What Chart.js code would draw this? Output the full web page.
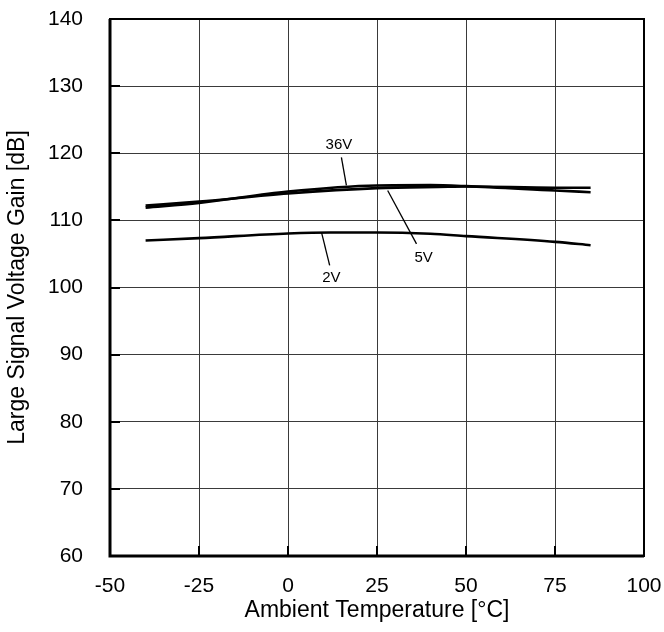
<!DOCTYPE html>
<html>
<head>
<meta charset="utf-8">
<script src="https://cdn.jsdelivr.net/npm/chart.js@4/dist/chart.umd.min.js"></script>
<style>html,body{margin:0;padding:0;background:#fff;}canvas{display:block;}</style>
</head>
<body>
<canvas id="c" width="664" height="632"></canvas>
<script>
// ---- data ----
const temps2V  = [-40, -25, 0, 12, 25, 40, 50, 75, 85];
const gain2V   = [107.0, 107.35, 108.05, 108.2, 108.2, 108.0, 107.65, 106.8, 106.3];
const temps5V  = [-40, -25, 0, 25, 45, 50, 75, 85];
const gain5V   = [112.2, 112.8, 114.0, 114.8, 115.0, 115.05, 114.87, 114.87];
const temps36V = [-40, -25, 0, 25, 40, 50, 75, 85];
const gain36V  = [111.9, 112.6, 114.3, 115.2, 115.25, 115.1, 114.45, 114.2];

const xTicks = [-50, -25, 0, 25, 50, 75, 100];
const yTicks = [60, 70, 80, 90, 100, 110, 120, 130, 140];

const xTitle = 'Ambient Temperature [°C]';
const yTitle = 'Large Signal Voltage Gain [dB]';

// label annotations: [text, textX, textY, lineFromX, lineFromY, lineToX, lineToY] in data units
const labels = [
  ['36V', 14.3, 121.3, 15.0, 119.4, 16.4, 115.2],
  ['5V', 38.1, 104.4, 36.1, 106.5, 28.0, 114.46],
  ['2V', 12.2, 101.4, 11.7, 103.3, 9.4, 108.26]
];

const FONT = 'Liberation Sans, Arial, Helvetica, sans-serif';
const pts = (xs, ys) => xs.map((x, i) => ({x, y: ys[i]}));

const frame = {
  id: 'frame',
  afterDatasetsDraw(chart) {
    const {ctx, chartArea: a, scales: {x, y}} = chart;
    ctx.save();
    ctx.strokeStyle = '#000';
    ctx.lineWidth = 2;
    ctx.beginPath();
    yTicks.forEach(v => {
      const py = Math.round(y.getPixelForValue(v));
      ctx.moveTo(a.left, py); ctx.lineTo(a.left + 10, py);
    });
    xTicks.forEach(v => {
      const px = Math.round(x.getPixelForValue(v));
      ctx.moveTo(px, a.bottom); ctx.lineTo(px, a.bottom - 10);
    });
    ctx.stroke();
    ctx.lineWidth = 2;
    ctx.strokeRect(a.left, a.top, a.right - a.left, a.bottom - a.top);
    ctx.lineWidth = 3;
    ctx.beginPath();
    ctx.moveTo(a.left, a.top); ctx.lineTo(a.left, a.bottom); ctx.lineTo(a.right, a.bottom);
    ctx.stroke();
    ctx.lineWidth = 1.3;
    ctx.font = '15px ' + FONT;
    ctx.fillStyle = '#000';
    ctx.textAlign = 'center';
    ctx.textBaseline = 'middle';
    labels.forEach(([t, tx, ty, x1, y1, x2, y2]) => {
      ctx.beginPath();
      ctx.moveTo(x.getPixelForValue(x1), y.getPixelForValue(y1));
      ctx.lineTo(x.getPixelForValue(x2), y.getPixelForValue(y2));
      ctx.stroke();
      ctx.fillText(t, x.getPixelForValue(tx), y.getPixelForValue(ty));
    });
    ctx.restore();
  }
};

const ds = (label, xs, ys) => ({
  label, data: pts(xs, ys),
  borderColor: '#000', borderWidth: 2.6, pointRadius: 0,
  cubicInterpolationMode: 'monotone', fill: false
});

new Chart(document.getElementById('c'), {
  type: 'line',
  data: { datasets: [ds('2V', temps2V, gain2V), ds('5V', temps5V, gain5V), ds('36V', temps36V, gain36V)] },
  options: {
    responsive: false,
    animation: false,
    layout: { padding: { top: 0, right: 0, left: 0, bottom: 0 } },
    plugins: { legend: { display: false }, tooltip: { enabled: false } },
    scales: {
      x: {
        type: 'linear', min: -50, max: 100,
        afterBuildTicks(s) { s.ticks = xTicks.map(v => ({value: v})); },
        afterFit(s) { s.height = 76; s.paddingLeft = 0; s.paddingRight = 20; },
        ticks: { color: '#000', font: { family: FONT, size: 21 }, padding: 18, maxRotation: 0 },
        grid: { color: '#3a3a3a', lineWidth: 1, drawTicks: false },
        border: { display: false },
        title: { display: true, text: xTitle, color: '#000', font: { family: FONT, size: 23 }, padding: { top: 0, bottom: 8 } }
      },
      y: {
        type: 'linear', min: 60, max: 140,
        afterBuildTicks(s) { s.ticks = yTicks.map(v => ({value: v})); },
        afterFit(s) { s.width = 110; s.paddingTop = 19; s.paddingBottom = 0; },
        ticks: { color: '#000', font: { family: FONT, size: 21 }, padding: 27 },
        grid: { color: '#3a3a3a', lineWidth: 1, drawTicks: false },
        border: { display: false },
        title: { display: true, text: yTitle, color: '#000', font: { family: FONT, size: 23 }, padding: { top: 4, bottom: 0 } }
      }
    }
  },
  plugins: [frame]
});
</script>
</body>
</html>
